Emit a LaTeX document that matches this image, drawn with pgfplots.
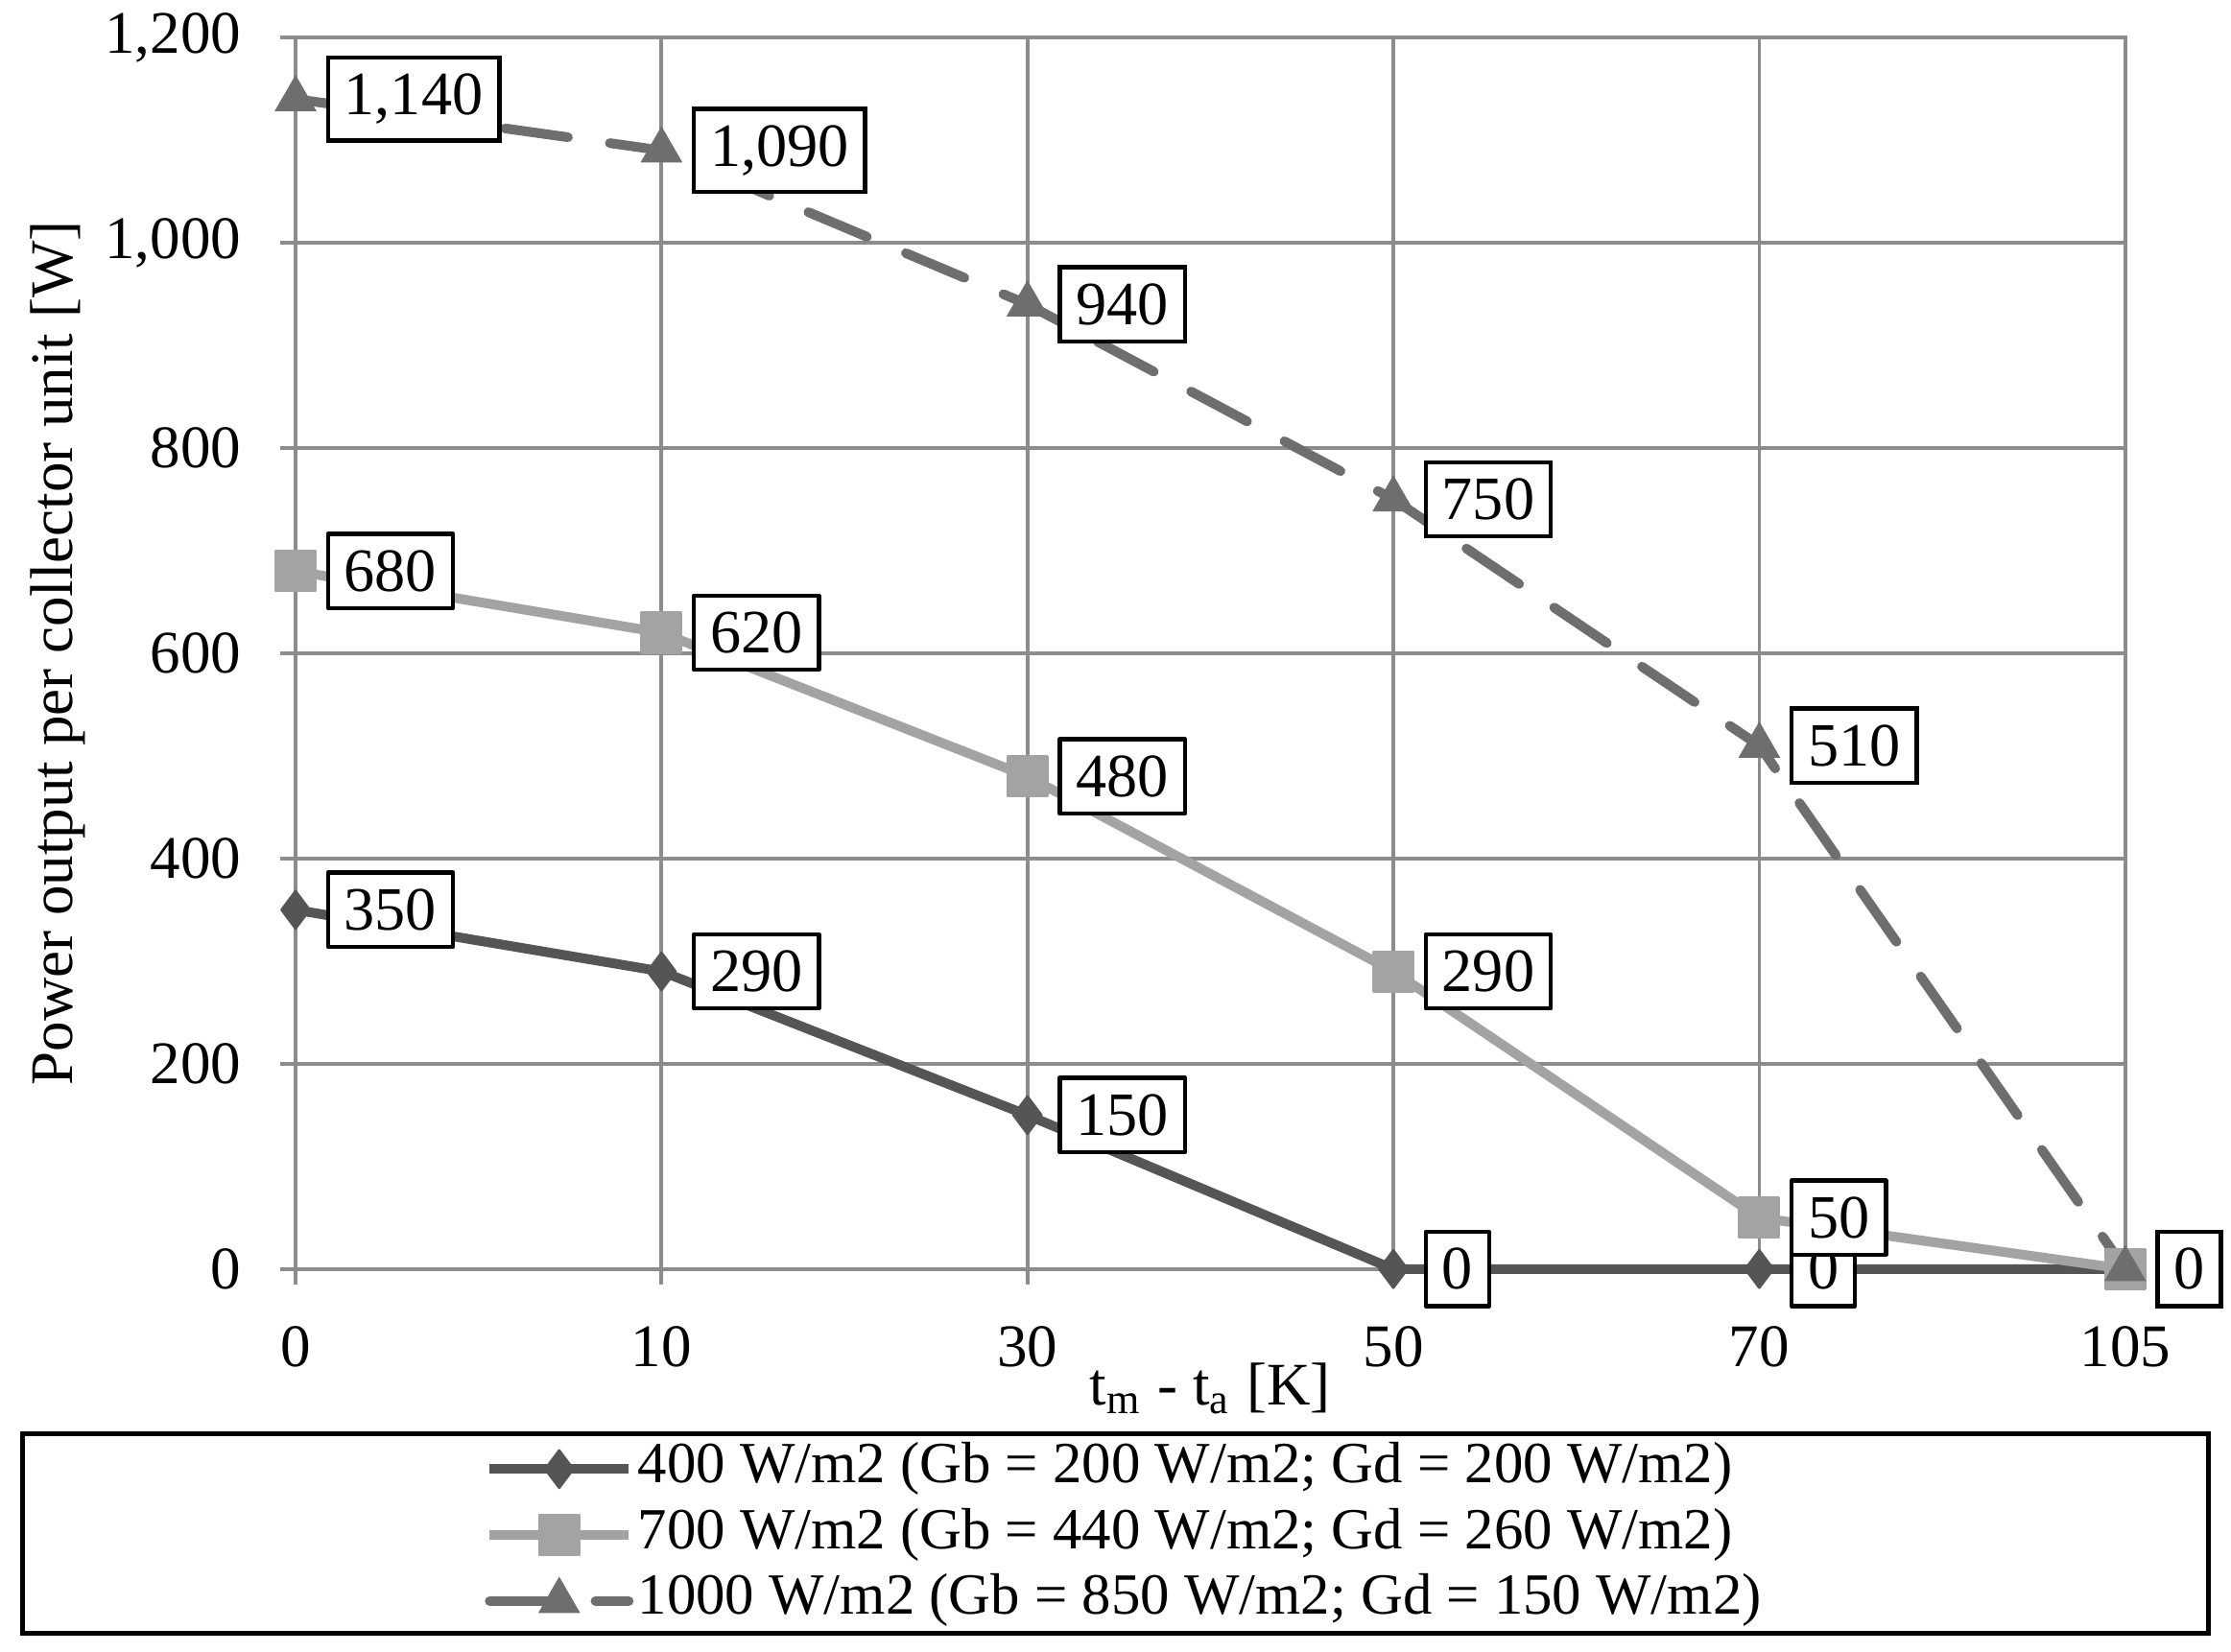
\documentclass[border=0pt]{standalone}
\usepackage{fontspec}
\setmainfont{Liberation Serif}
\usepackage{pgfplots}
\pgfplotsset{compat=1.18}
\definecolor{sA}{HTML}{555555}
\definecolor{sB}{HTML}{A3A3A3}
\definecolor{sC}{HTML}{6E6E6E}
\definecolor{gridc}{HTML}{8C8C8C}
\begin{document}
\begin{tikzpicture}
\begin{axis}[
  scale only axis, width=302.7pt, height=203.8pt,
  xmin=0, xmax=5, ymin=0, ymax=1200,
  xtick={0,...,5}, xticklabels={0,10,30,50,70,105},
  ytick={0,200,...,1200},
  grid=major, major grid style={gridc, line width=0.6pt},
  axis line style={gridc, line width=0.6pt},
  tick align=outside, major tick length=2.5pt, tick style={gridc, line width=0.6pt},
  xtick pos=left, ytick pos=left,
  clip=false,
  font=\fontsize{10}{12}\selectfont,
  /pgf/number format/1000 sep={,},
  /pgf/number format/assume math mode=true,
  yticklabel style={xshift=-3pt},
  xticklabel style={yshift=-3.5pt},
  xlabel={t\textsubscript{m} - t\textsubscript{a} [K]},
  x label style={at={(axis description cs:0.5,0)}, anchor=north, yshift=-12pt},
  ylabel={Power output per collector unit [W]},
  y label style={at={(axis description cs:-0.1300,0.5)}, anchor=center},
  legend style={at={(axis description cs:0.1028,-0.1347)}, anchor=north west, draw=none, fill=none, inner sep=0pt, row sep=0pt, font=\fontsize{9.65}{11.5}\selectfont, nodes={inner sep=0.7pt, text height=7pt, text depth=2.5pt}},
  legend cell align=left,
  legend image code/.code={\draw[mark repeat=2, mark phase=2, #1] plot coordinates {(0pt,0pt) (11.5pt,0pt) (23pt,0pt)};},
  nodes near coords,
  every node near coord/.append style={anchor=west, xshift=5pt, draw=black, solid, fill=white, line width=0.7pt, inner sep=2.7pt, text=black, font=\fontsize{10.2}{12}\selectfont},
]
\addplot[sA, line width=1.6pt, line join=round, mark=diamond*, mark size=3.1pt, mark options={solid, line width=0.4pt}] coordinates {(0,350)(1,290)(2,150)(3,0)(4,0)(5,0)};
\addlegendentry{400 W/m2 (Gb = 200 W/m2; Gd = 200 W/m2)}
\addplot[sB, line width=1.6pt, line join=round, mark=square*, mark size=3.3pt, mark options={solid, line width=0.4pt}] coordinates {(0,680)(1,620)(2,480)(3,290)(4,50)(5,0)};
\addlegendentry{700 W/m2 (Gb = 440 W/m2; Gd = 260 W/m2)}
\addplot[sC, line width=1.6pt, dash pattern=on 10.5pt off 7pt, line cap=round, mark=triangle*, mark size=3.6pt, mark options={solid, line width=0.4pt}] coordinates {(0,1140)(1,1090)(2,940)(3,750)(4,510)(5,0)};
\addlegendentry{1000 W/m2 (Gb = 850 W/m2; Gd = 150 W/m2)}
\coordinate (O) at (rel axis cs:0,0);
\end{axis}
\draw[line width=0.8pt] ([xshift=-45.1pt,yshift=-27.3pt]O) rectangle ([xshift=316.5pt,yshift=-60.3pt]O);
\pgfresetboundingbox
\path ([xshift=-48.9pt,yshift=-63.3pt]O) rectangle ([xshift=320.2pt,yshift=210pt]O);
\end{tikzpicture}
\end{document}
